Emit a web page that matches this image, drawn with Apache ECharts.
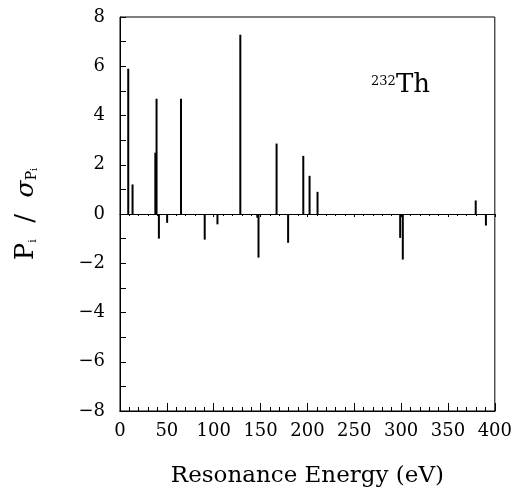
<!DOCTYPE html>
<html>
<head>
<meta charset="utf-8">
<script src="https://cdn.jsdelivr.net/npm/echarts@6/dist/echarts.min.js"></script>
<style>
html,body{margin:0;padding:0;background:#fff;}
#chart{width:515px;height:493px;}
</style>
</head>
<body>
<div id="chart"></div>
<script>
// Resonance energies (eV) and significance values P_i / sigma_Pi
var energies = [8.8, 13.4, 37.7, 39.0, 41.5, 50.3, 65.1, 90.4, 104.0, 128.4, 146.5, 147.8, 167.1, 179.4, 195.6, 202.3, 210.8, 299.0, 301.8, 379.6, 390.5];
var values   = [5.9, 1.2, 2.49, 4.68, -1.0, -0.36, 4.68, -1.04, -0.42, 7.28, -0.15, -1.77, 2.86, -1.17, 2.36, 1.55, 0.90, -0.97, -1.85, 0.55, -0.47];
var xTicks = [0, 50, 100, 150, 200, 250, 300, 350, 400];
var yTicks = [-8, -6, -4, -2, 0, 2, 4, 6, 8];

var FONT = 'DejaVu Serif';
var chart = echarts.init(document.getElementById('chart'));
var data = energies.map(function (e, i) { return [e, values[i]]; });
function minus(v) { return String(v).replace('-', '\u2212'); }

var zeroAxis = function (pos) {
  return {
    type: 'value', min: xTicks[0], max: xTicks[xTicks.length - 1], interval: 50,
    position: pos,
    axisLine: { show: true, onZero: true, lineStyle: { color: '#000', width: 1 } },
    axisTick: { show: true, inside: true, length: 3, lineStyle: { color: '#000', width: 1 } },
    minorTick: { show: true, splitNumber: 5, length: 2, lineStyle: { color: '#000', width: 1 } },
    axisLabel: { show: false },
    splitLine: { show: false }
  };
};

chart.setOption({
  animation: false,
  backgroundColor: '#fff',
  grid: { left: 120, right: 16, top: 17, bottom: 80, show: true, borderColor: '#000', borderWidth: 1, backgroundColor: 'transparent' },
  xAxis: [
    {
      type: 'value', min: xTicks[0], max: xTicks[xTicks.length - 1], interval: 50,
      position: 'bottom',
      name: 'Resonance Energy (eV)', nameLocation: 'middle', nameGap: 54,
      nameTextStyle: { fontFamily: FONT, fontSize: 23, color: '#000' },
      axisLine: { show: true, onZero: false, lineStyle: { color: '#000', width: 1 } },
      axisTick: { show: true, inside: true, length: 8, lineStyle: { color: '#000', width: 1 } },
      minorTick: { show: true, splitNumber: 5, length: 4, lineStyle: { color: '#000', width: 1 } },
      axisLabel: { fontFamily: FONT, fontSize: 18, color: '#000', margin: 11 },
      splitLine: { show: false }
    },
    zeroAxis('top'),
    zeroAxis('bottom')
  ],
  yAxis: {
    type: 'value', min: yTicks[0], max: yTicks[yTicks.length - 1], interval: 2,
    name: '{a|P}{b|i}{a|  /  }{g|σ}{c|P}{d|i}',
    nameLocation: 'middle', nameRotate: 90, nameGap: 81,
    nameTextStyle: {
      color: '#000',
      rich: {
        a: { fontFamily: FONT, fontSize: 26, color: '#000', verticalAlign: 'bottom' },
        g: { fontFamily: FONT, fontSize: 25, fontStyle: 'italic', color: '#000', verticalAlign: 'bottom' },
        b: { fontFamily: FONT, fontSize: 11, color: '#000', verticalAlign: 'bottom' },
        c: { fontFamily: FONT, fontSize: 14, color: '#000', verticalAlign: 'bottom' },
        d: { fontFamily: FONT, fontSize: 10, color: '#000', verticalAlign: 'bottom' }
      }
    },
    axisLine: { show: true, onZero: false, lineStyle: { color: '#000', width: 1 } },
    axisTick: { show: true, inside: true, length: 6, lineStyle: { color: '#000', width: 1 } },
    minorTick: { show: true, splitNumber: 2, length: 6, lineStyle: { color: '#000', width: 1 } },
    axisLabel: { fontFamily: FONT, fontSize: 18, color: '#000', margin: 15, formatter: minus },
    splitLine: { show: false }
  },
  graphic: [
    { type: 'text', left: 371, top: 75, style: { text: '232', fontFamily: FONT, fontSize: 13, fill: '#000' } },
    { type: 'text', left: 396, top: 72, style: { text: 'Th', fontFamily: FONT, fontSize: 26, fill: '#000' } }
  ],
  series: [{
    type: 'bar',
    xAxisIndex: 0,
    yAxisIndex: 0,
    data: data,
    barWidth: 2,
    itemStyle: { color: '#000' },
    silent: true
  }]
});
</script>
</body>
</html>
